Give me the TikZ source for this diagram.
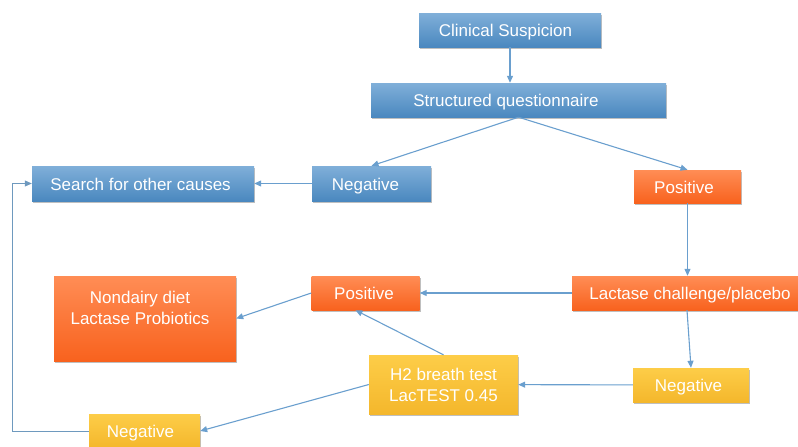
\documentclass[tikz,border=0pt]{standalone}
\usepackage{fontspec}
\setmainfont{Liberation Sans}
\usetikzlibrary{shadows,arrows.meta}
\definecolor{blueT}{HTML}{80AFD9}
\definecolor{blueB}{HTML}{4A88BF}
\definecolor{orT}{HTML}{FF8D55}
\definecolor{orB}{HTML}{F8621E}
\definecolor{yeT}{HTML}{FDCD48}
\definecolor{yeB}{HTML}{F4B72C}
\definecolor{lineC}{HTML}{6A9FCE}
\begin{document}
\begin{tikzpicture}[x=1pt,y=-1pt,
  box/.style={inner sep=0pt, text=white, font=\fontsize{17}{21}\selectfont,
    drop shadow={shadow xshift=1pt,shadow yshift=-1.5pt,fill=black,opacity=0.25}},
  one/.style={text height=17pt, text depth=3.6pt},
  tsh/.style={execute at begin node={\hspace*{#1}}},
  bluebox/.style={box, top color=blueT, bottom color=blueB},
  orbox/.style={box, top color=orT, bottom color=orB},
  yebox/.style={box, top color=yeT, bottom color=yeB},
  conn/.style={draw=lineC, line width=1.1pt, -{Triangle[length=7pt,width=6pt]}},
  thinconn/.style={draw=lineC!80!gray, line width=0.8pt, -{Triangle[length=7pt,width=6pt]}}
]
\useasboundingbox (0,0) rectangle (798,447);

\node[bluebox, one, tsh=-9pt, minimum width=182pt, minimum height=34pt] (clin) at (510,30) {Clinical Suspicion};
\node[bluebox, one, tsh=-25pt, minimum width=295pt, minimum height=34pt] (sq) at (518.5,100) {Structured questionnaire};
\node[bluebox, one, tsh=-12pt, minimum width=119pt, minimum height=35pt] (negA) at (371.5,183.5) {Negative};
\node[bluebox, one, tsh=-5pt, minimum width=222pt, minimum height=35pt] (search) at (143,183.5) {Search for other causes};
\node[orbox, one, tsh=-7pt, minimum width=107pt, minimum height=33pt] (posA) at (687.5,186.5) {Positive};
\node[orbox, one, minimum width=236pt, minimum height=34pt] (lact) at (690,293) {Lactase challenge/placebo};
\node[yebox, one, tsh=-5pt, minimum width=116pt, minimum height=34pt] (negB) at (691,385) {Negative};
\node[yebox, align=center, minimum width=149pt, minimum height=59pt] (h2) at (443.5,384.5) {H2 breath test\\LacTEST 0.45};
\node[orbox, one, tsh=-3pt, minimum width=108pt, minimum height=34pt] (posB) at (365.5,293) {Positive};
\node[orbox, minimum width=182pt, minimum height=85pt] (diet) at (145,318.5) {};
\node[text=white, font=\fontsize{17}{21}\selectfont, align=center, inner sep=0pt] (diettext) at (140,308) {Nondairy diet\\Lactase Probiotics};
\node[yebox, one, tsh=-8pt, minimum width=111pt, minimum height=34pt] (negC) at (144.5,431) {Negative};
\coordinate (turn) at (12,183.5);

\draw[conn] (clin.south) -- (clin.south |- sq.north);
\draw[conn] (sq.south) -- (negA.north);
\draw[conn] (sq.south) -- (posA.north);
\draw[conn] (negA) -- (search);
\draw[conn] (posA.south) -- (posA.south |- lact.north);
\draw[conn] (lact) -- (posB);
\draw[conn] ([xshift=-3pt]lact.south) -- (negB.north);
\draw[conn] (negB) -- (h2);
\draw[conn] (h2.north) -- ([xshift=-10pt]posB.south);
\draw[conn] (posB.west) -- (diet.east);
\draw[conn] (h2.west) -- (negC.east);
\draw[thinconn] (negC.west) -- (negC.west -| turn) -- (turn) -- (search.west);
\end{tikzpicture}
\end{document}
